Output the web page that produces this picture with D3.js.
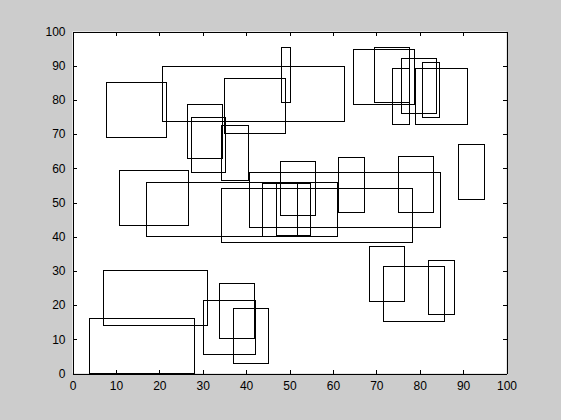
<!DOCTYPE html>
<html>
<head>
<meta charset="utf-8">
<script src="https://cdn.jsdelivr.net/npm/d3@7"></script>
<style>
  body { margin: 0; background: #cccccc; }
  svg { display: block; }
  text { font-family: "Liberation Sans", Arial, sans-serif; font-size: 12px; fill: #000; }
</style>
</head>
<body>
<div id="chart"></div>
<script>
// rectangles: lower-left corner, width, height (data units)
var rectX = [4, 7.1, 30.2, 33.9, 37.1, 68.4, 71.7, 82, 88.9, 61.4, 75.2, 40.8, 34.3, 17.1, 10.8, 48,
             43.8, 46.9, 7.8, 20.7, 35, 48.2, 26.6, 27.5, 34.3, 64.7, 69.6, 73.7, 75.9, 79, 80.6];
var rectY = [0, 14, 5.5, 10.1, 2.8, 21, 15.2, 17.2, 51, 47.1, 47.1, 42.7, 38.4, 40.1, 43.3, 46.1,
             40.0, 40.3, 69.1, 73.6, 70.3, 79.2, 62.8, 58.7, 56.3, 78.8, 79.1, 72.9, 76, 72.9, 75];
var rectW = [24, 24, 12, 8, 8.1, 8, 14, 6, 6, 5.9, 8, 44, 44, 44, 15.9, 8,
             8, 7.9, 13.9, 42, 14.1, 2, 8, 7.8, 6.3, 14, 8, 3.9, 8, 12, 4];
var rectH = [16, 16.1, 15.7, 16.2, 16.2, 16.2, 16.1, 15.8, 16, 16.1, 16.4, 16.2, 15.8, 15.8, 16.1, 16,
             15.6, 15.4, 16.1, 16.3, 16.1, 16.1, 16, 16.3, 16.1, 16, 16.1, 16.2, 16, 16.4, 16];
var xTicks = [0, 10, 20, 30, 40, 50, 60, 70, 80, 90, 100];
var yTicks = [0, 10, 20, 30, 40, 50, 60, 70, 80, 90, 100];

var width = 561, height = 420;
var plotL = 72.5, plotR = 506.5, plotT = 31.5, plotB = 373.5;

var svg = d3.select("#chart").append("svg")
    .attr("width", width)
    .attr("height", height)

var x = d3.scaleLinear().domain([0, 100]).range([plotL, plotR])
var y = d3.scaleLinear().domain([0, 100]).range([plotB, plotT])

svg.append("rect")
    .attr("x", plotL).attr("y", plotT)
    .attr("width", plotR - plotL).attr("height", plotB - plotT)
    .attr("fill", "#fff")

var boxes = rectX.map(function(d, i){
    return {x: d, y: rectY[i], w: rectW[i], h: rectH[i]};
})

svg.selectAll(".box")
    .data(boxes).enter().append("rect")
    .attr("class", "box")
    .attr("x", function(d){ return Math.floor(x(d.x)) + 0.5; })
    .attr("y", function(d){ return Math.floor(y(d.y + d.h)) + 0.5; })
    .attr("width", function(d){ return Math.floor(x(d.x + d.w)) - Math.floor(x(d.x)); })
    .attr("height", function(d){ return Math.floor(y(d.y)) - Math.floor(y(d.y + d.h)); })
    .attr("fill", "none")
    .attr("stroke", "#000")
    .attr("stroke-width", 1)
    .attr("shape-rendering", "crispEdges")

// axes, ticks pointing inward like matlab
var xAxis = d3.axisBottom(x).tickValues(xTicks).tickSizeInner(-4).tickSizeOuter(0).tickPadding(8)
var yAxis = d3.axisLeft(y).tickValues(yTicks).tickSizeInner(-4).tickSizeOuter(0).tickPadding(7)

svg.append("g").attr("transform", "translate(0," + plotB + ")").call(xAxis)
svg.append("g").attr("transform", "translate(" + plotL + ",0)").call(yAxis)
svg.append("g").attr("transform", "translate(0," + plotT + ")")
    .call(d3.axisTop(x).tickValues(xTicks).tickSizeInner(-4).tickSizeOuter(0).tickFormat(""))
svg.append("g").attr("transform", "translate(" + plotR + ",0)")
    .call(d3.axisRight(y).tickValues(yTicks).tickSizeInner(-4).tickSizeOuter(0).tickFormat(""))

svg.selectAll(".domain").attr("stroke", "#000").attr("shape-rendering", "crispEdges")
svg.selectAll(".tick line").attr("stroke", "#000").attr("shape-rendering", "crispEdges")
svg.selectAll(".tick text")
    .style("font-family", "'Liberation Sans', Arial, sans-serif")
    .style("font-size", "12px")
    .style("fill", "#000")
</script>
</body>
</html>
